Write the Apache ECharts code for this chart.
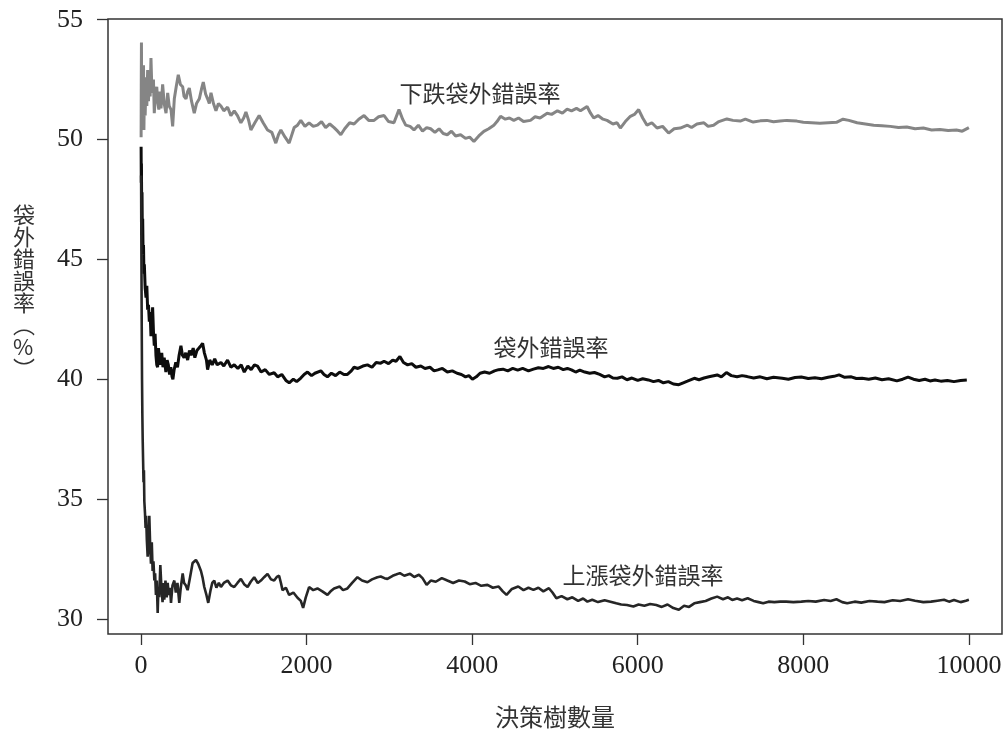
<!DOCTYPE html>
<html><head><meta charset="utf-8">
<script src="https://cdn.jsdelivr.net/npm/echarts@6/dist/echarts.min.js"></script>
<style>html,body{margin:0;padding:0;background:#fff}#c{width:1004px;height:731px}</style>
</head><body><div id="c"></div>
<script>
const xTicks = [0, 2000, 4000, 6000, 8000, 10000];
const yTicks = [30, 35, 40, 45, 50, 55];
const xTitle = '決策樹數量';
const yTitle = '袋外錯誤率︵%︶';
const seriesNames = ['下跌袋外錯誤率', '袋外錯誤率', '上漲袋外錯誤率'];

const downX = [1,3,5,8,12,16,20,25,30,35,40,50,60,70,80,90,100,110,120,130,141,150,160,175,190,201,215,230,241,261,280,302,322,340,362,382,402,425,450,475,503,520,543,563,583,610,643,670,704,730,752,780,804,825,845,875,905,935,965,1000,1046,1085,1126,1165,1206,1240,1267,1300,1327,1375,1427,1475,1528,1580,1628,1660,1689,1740,1789,1850,1890,1930,1980,2030,2080,2131,2180,2230,2280,2332,2375,2413,2460,2520,2573,2630,2694,2750,2815,2870,2936,2990,3055,3116,3160,3197,3250,3297,3350,3400,3450,3498,3550,3600,3650,3699,3750,3800,3860,3920,3970,4021,4080,4141,4200,4262,4300,4343,4400,4450,4503,4560,4620,4704,4760,4820,4906,4960,5030,5090,5147,5200,5260,5308,5388,5430,5468,5520,5580,5629,5700,5750,5790,5850,5911,5960,6011,6060,6112,6170,6233,6300,6373,6440,6514,6600,6650,6715,6800,6850,6916,6980,7077,7150,7238,7300,7395,7480,7560,7640,7720,7800,7921,8000,8100,8200,8300,8400,8480,8550,8650,8750,8850,8950,9050,9150,9250,9350,9450,9550,9650,9750,9850,9920,10000];
const downY = [50.1,52.5,54.05,51.0,53.0,50.6,52.6,51.2,53.1,50.4,52.0,51.0,52.6,51.4,52.9,51.6,52.8,51.8,53.4,52.2,51.95,52.5,51.1,51.9,52.2,51.6,51.25,52.0,51.3,52.3,51.5,51.1,51.95,51.4,51.25,50.55,51.7,52.2,52.7,52.3,52.2,51.8,51.7,52.0,52.15,51.6,51.1,51.5,51.7,52.1,52.4,51.9,51.7,51.5,51.95,51.5,51.2,51.5,51.4,51.2,51.35,51.0,51.2,51.0,50.7,50.9,51.15,50.8,50.4,50.7,51.0,50.7,50.4,50.3,49.85,50.2,50.4,50.1,49.85,50.5,50.6,50.8,50.55,50.7,50.55,50.6,50.75,50.5,50.65,50.5,50.35,50.2,50.45,50.7,50.65,50.85,51.0,50.8,50.8,50.95,51.0,50.75,50.7,51.25,50.85,50.6,50.55,50.4,50.6,50.35,50.5,50.45,50.3,50.45,50.25,50.2,50.35,50.15,50.2,50.05,50.1,49.92,50.15,50.34,50.45,50.6,50.75,50.97,50.85,50.9,50.8,50.9,50.75,50.8,50.95,50.9,51.1,51.05,51.2,51.1,51.27,51.2,51.3,51.2,51.38,51.1,50.9,51.0,50.85,50.8,50.65,50.7,50.48,50.75,50.97,51.05,51.25,50.9,50.6,50.7,50.48,50.55,50.27,50.45,50.48,50.6,50.5,50.65,50.7,50.55,50.6,50.75,50.86,50.8,50.77,50.85,50.73,50.78,50.8,50.74,50.77,50.8,50.77,50.72,50.7,50.68,50.7,50.72,50.85,50.8,50.7,50.65,50.6,50.58,50.55,50.5,50.52,50.45,50.48,50.4,50.42,50.38,50.4,50.35,50.5];

const allX = [1,3,5,8,12,16,20,25,30,35,40,50,60,70,80,90,100,110,120,130,140,150,160,170,180,190,200,210,220,235,250,265,280,300,315,330,345,360,375,385,400,420,440,460,482,500,520,540,563,585,605,630,650,675,700,724,744,765,790,804,830,860,890,920,965,1000,1045,1085,1126,1170,1210,1247,1290,1330,1370,1407,1450,1500,1550,1608,1650,1700,1750,1790,1840,1880,1930,1970,2011,2060,2100,2172,2210,2252,2300,2350,2400,2450,2493,2540,2573,2620,2680,2735,2790,2840,2895,2936,2990,3040,3080,3127,3170,3220,3270,3320,3380,3430,3490,3540,3585,3640,3700,3760,3818,3870,3920,3960,4003,4050,4095,4150,4210,4270,4320,4372,4430,4490,4550,4610,4680,4740,4800,4860,4923,4980,5040,5100,5150,5199,5250,5300,5360,5420,5477,5540,5600,5650,5700,5754,5810,5870,5930,6000,6060,6128,6190,6250,6310,6370,6430,6496,6550,6600,6683,6740,6800,6860,6960,7010,7071,7130,7200,7260,7322,7400,7480,7560,7640,7745,7820,7900,7976,8060,8140,8220,8300,8370,8432,8500,8580,8640,8710,8790,8870,8950,9030,9130,9200,9265,9330,9400,9470,9530,9590,9660,9740,9820,9900,9975];
const allY = [49.7,48.2,49.0,47.0,47.8,46.0,46.7,45.2,45.6,44.4,44.8,43.8,43.4,43.9,42.9,43.1,42.4,42.8,41.8,42.3,43.0,42.0,41.4,41.9,41.0,40.6,40.5,41.3,41.0,40.6,41.1,40.5,40.9,40.3,40.8,40.6,40.2,40.5,40.1,40.0,40.4,40.7,40.5,41.0,41.4,41.0,40.9,41.1,40.8,41.2,41.0,41.3,40.9,41.2,41.3,41.4,41.5,41.1,40.8,40.4,40.8,40.6,40.85,40.6,40.7,40.55,40.8,40.5,40.6,40.45,40.6,40.3,40.55,40.4,40.6,40.55,40.3,40.4,40.2,40.27,40.1,40.2,39.95,39.85,40.0,39.9,40.05,40.2,40.3,40.15,40.25,40.35,40.2,40.1,40.25,40.15,40.3,40.2,40.2,40.35,40.5,40.45,40.55,40.6,40.5,40.7,40.67,40.75,40.65,40.8,40.75,40.95,40.7,40.6,40.65,40.5,40.55,40.45,40.5,40.35,40.39,40.45,40.3,40.35,40.25,40.2,40.1,40.15,40.0,40.1,40.25,40.3,40.25,40.35,40.4,40.42,40.35,40.45,40.38,40.45,40.35,40.42,40.48,40.45,40.53,40.45,40.5,40.4,40.45,40.39,40.3,40.38,40.3,40.25,40.28,40.2,40.1,40.15,40.05,40.04,40.1,39.98,40.05,39.95,40.02,39.97,39.9,39.95,39.85,39.9,39.8,39.77,39.85,39.92,40.04,39.98,40.05,40.1,40.18,40.1,40.28,40.15,40.1,40.15,40.11,40.05,40.1,40.02,40.08,40.04,40.0,40.07,40.09,40.03,40.06,40.02,40.08,40.12,40.18,40.08,40.1,40.03,40.04,40.0,40.05,39.98,40.02,39.93,40.0,40.09,40.0,39.95,40.0,39.93,39.97,39.92,39.95,39.9,39.95,39.97];

const upX = [1,3,5,8,12,16,20,25,30,35,40,48,55,62,70,80,90,100,110,120,130,140,150,161,170,180,190,201,210,220,233,245,260,270,281,295,310,322,335,350,362,380,402,420,440,462,480,503,520,540,563,590,623,645,663,690,724,745,764,790,812,840,860,885,910,940,965,1000,1046,1085,1126,1165,1206,1245,1287,1325,1367,1410,1448,1490,1528,1570,1608,1640,1668,1690,1709,1750,1789,1840,1890,1930,1958,1990,2030,2080,2131,2190,2252,2290,2332,2400,2440,2493,2550,2614,2670,2735,2790,2855,2895,2940,2976,3040,3080,3127,3180,3250,3300,3357,3400,3450,3500,3560,3633,3700,3770,3840,3910,3970,4040,4110,4185,4250,4320,4370,4415,4480,4556,4620,4680,4740,4800,4860,4927,4970,5017,5080,5150,5210,5280,5340,5392,5450,5520,5600,5670,5740,5800,5870,5947,6010,6080,6150,6224,6290,6360,6430,6496,6560,6620,6683,6750,6820,6890,6960,7030,7090,7141,7200,7260,7328,7400,7460,7515,7580,7650,7720,7793,7880,7976,8060,8150,8252,8330,8400,8470,8530,8620,8700,8800,8896,8980,9080,9170,9265,9350,9450,9543,9620,9700,9760,9820,9900,9964,10000];
const upY = [48.5,46.5,45.0,42.5,40.0,38.5,37.5,36.6,35.7,36.2,34.9,34.4,33.8,34.3,33.3,32.6,33.0,34.3,33.1,32.3,33.2,32.0,32.4,31.6,31.9,31.0,31.6,30.25,31.3,30.9,32.25,31.4,30.7,31.5,30.8,31.6,30.9,31.5,31.0,31.3,30.67,31.4,31.6,31.1,31.5,30.67,31.3,31.9,31.5,31.4,31.2,31.7,32.33,32.4,32.46,32.3,32.0,31.7,31.33,31.0,30.67,31.2,31.5,31.6,31.3,31.5,31.33,31.5,31.6,31.4,31.33,31.5,31.67,31.45,31.33,31.55,31.74,31.5,31.6,31.75,31.88,31.65,31.6,31.75,31.8,31.5,31.2,31.3,31.0,31.1,30.88,30.75,30.46,30.9,31.33,31.2,31.27,31.15,31.0,31.15,31.27,31.35,31.2,31.27,31.5,31.74,31.6,31.53,31.65,31.74,31.77,31.7,31.67,31.8,31.85,31.91,31.8,31.88,31.75,31.84,31.7,31.42,31.6,31.55,31.7,31.6,31.5,31.6,31.56,31.45,31.5,31.38,31.42,31.3,31.35,31.15,31.0,31.25,31.35,31.2,31.3,31.21,31.3,31.15,31.28,31.1,30.86,30.95,30.82,30.9,30.75,30.85,30.72,30.8,30.7,30.78,30.72,30.65,30.6,30.58,30.52,30.6,30.55,30.62,30.58,30.5,30.6,30.45,30.38,30.55,30.5,30.65,30.7,30.75,30.85,30.93,30.82,30.9,30.79,30.85,30.78,30.86,30.75,30.7,30.65,30.72,30.7,30.72,30.72,30.7,30.72,30.75,30.72,30.79,30.75,30.82,30.7,30.65,30.72,30.68,30.75,30.72,30.7,30.78,30.75,30.82,30.76,30.7,30.72,30.76,30.8,30.72,30.79,30.7,30.76,30.8];

function pairs(xs, ys) { return xs.map((x, i) => [x, ys[i]]); }

const chart = echarts.init(document.getElementById('c'), null, {renderer: 'canvas'});
const tickFont = {fontFamily: '"Liberation Serif", "Times New Roman", serif', fontSize: 26, color: '#222', formatter: v => String(v)};
const cjk = '"Noto Sans CJK TC", "Noto Sans CJK SC", sans-serif';
chart.setOption({
  animation: false,
  backgroundColor: '#fff',
  grid: {left: 108, right: 2, top: 19, bottom: 97, containLabel: false, outerBoundsMode: 'none', show: true, borderColor: '#333', borderWidth: 1.5, backgroundColor: 'transparent'},
  xAxis: {
    type: 'value', min: -399, max: 10400,
    name: xTitle, nameLocation: 'middle', nameGap: 70,
    nameTextStyle: {fontFamily: cjk, fontSize: 24, lineHeight: 26, color: '#333'},
    axisLine: {show: false, onZero: false}, splitLine: {show: false},
    axisTick: {show: true, inside: false, length: 11, lineStyle: {color: '#333', width: 1.3}, customValues: xTicks},
    axisLabel: Object.assign({margin: 19, customValues: xTicks}, tickFont)
  },
  yAxis: {
    type: 'value', min: 29.37, max: 55.03,
    axisLine: {show: false, onZero: false}, splitLine: {show: false},
    axisTick: {show: true, inside: false, length: 11, lineStyle: {color: '#333', width: 1.3}, customValues: yTicks},
    axisLabel: Object.assign({margin: 25, customValues: yTicks}, tickFont)
  },
  graphic: [
    {type: 'text', left: 13, top: 204, style: {text: yTitle.split('').join('\n'), fontFamily: cjk, fontSize: 22, lineHeight: 22, fill: '#333', align: 'center'}},
    {type: 'text', x: 480, y: 93, style: {text: seriesNames[0], fontFamily: cjk, fontSize: 23, fill: '#333', align: 'center', verticalAlign: 'middle'}},
    {type: 'text', x: 551, y: 347, style: {text: seriesNames[1], fontFamily: cjk, fontSize: 23, fill: '#333', align: 'center', verticalAlign: 'middle'}},
    {type: 'text', x: 643, y: 575, style: {text: seriesNames[2], fontFamily: cjk, fontSize: 23, fill: '#333', align: 'center', verticalAlign: 'middle'}}
  ],
  series: [
    {name: seriesNames[0], type: 'line', data: pairs(downX, downY), showSymbol: false, symbol: 'none', lineStyle: {color: '#858585', width: 3}, z: 2},
    {name: seriesNames[1], type: 'line', data: pairs(allX, allY), showSymbol: false, symbol: 'none', lineStyle: {color: '#0d0d0d', width: 3}, z: 3},
    {name: seriesNames[2], type: 'line', data: pairs(upX, upY), showSymbol: false, symbol: 'none', lineStyle: {color: '#262626', width: 2.6}, z: 3}
  ]
});
</script></body></html>
